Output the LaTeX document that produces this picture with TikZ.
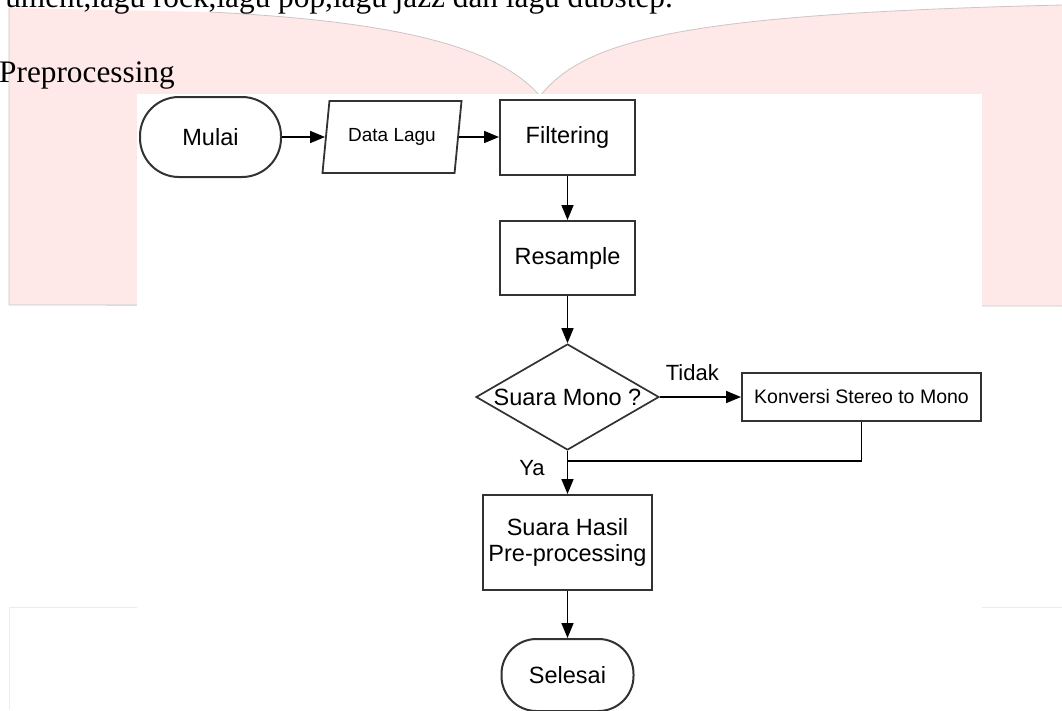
\documentclass[tikz,border=0pt]{standalone}
\usepackage{fontspec}
\setmainfont{Liberation Serif}
\newfontfamily\flowfont{Liberation Sans}
\usetikzlibrary{shapes.geometric,arrows.meta}

\definecolor{wmpink}{RGB}{255,232,232}
\definecolor{wmline}{RGB}{200,200,200}
\definecolor{faintline}{RGB}{236,236,236}
\definecolor{boxline}{RGB}{50,50,50}

\tikzset{
  procbox/.style={draw=boxline, line width=2pt, rectangle, inner sep=0pt, align=center,
    font=\flowfont\fontsize{23.5}{26}\selectfont},
  termbox/.style={procbox, rounded corners=39pt},
  iobox/.style={draw=boxline, line width=1.8pt, trapezium, trapezium left angle=74,
    trapezium right angle=106, trapezium stretches=true, inner sep=0pt,
    minimum width=140pt, minimum height=72pt, font=\flowfont\fontsize{19}{22}\selectfont},
  decbox/.style={draw=boxline, line width=1.7pt, diamond, inner sep=0pt,
    minimum width=183pt, minimum height=106pt, font=\flowfont\fontsize{23.5}{26}\selectfont},
  flowarrow/.style={line width=1.7pt, -{Triangle[length=15pt,width=12pt]}},
  flowlabel/.style={inner sep=0pt, font=\flowfont\fontsize{22}{26}\selectfont}
}

\begin{document}
\begin{tikzpicture}[x=1pt, y=-1pt]

\path[use as bounding box] (0,0) rectangle (1062,710);
\clip (0,0) rectangle (1062,710);

% page behind the chart
\fill[white] (0,0) rectangle (1062,710);
\fill[wmpink] (9,305) -- (9,8) -- (210,12) .. controls (410,22) and (500,50) .. (540,96)
  .. controls (585,40) and (680,14) .. (1062,5) -- (1062,306) -- cycle;
\draw[wmline, line width=0.8pt] (9,305) -- (9,8) (210,12) .. controls (410,22) and (500,50) .. (540,96)
  .. controls (585,40) and (680,14) .. (1062,5) (9,305) -- (1062,306);
\draw[faintline, line width=1pt] (9,710) -- (9,607) -- (1062,607);
\fill[white] (137,94) rectangle (982,710);

% text of the page
\node[anchor=base east, inner sep=0pt, font=\fontsize{31.3}{36}\selectfont] (topline) at (673,7.5)
  {ument,lagu rock,lagu pop,lagu jazz dan lagu dubstep.};
\node[anchor=base west, inner sep=0pt, font=\fontsize{31.3}{36}\selectfont] (heading) at (-1,82.6)
  {Preprocessing};

% the steps
\node[termbox, minimum width=141pt, minimum height=80pt] (mulai) at (210.5,137) {Mulai};
\node[iobox] (datalagu) at (392,137) {Data Lagu};
\node[procbox, minimum width=135pt, minimum height=75pt] (filtering) at (567.5,137) {Filtering};
\node[procbox, minimum width=135pt, minimum height=74pt] (resample) at (567.5,258) {Resample};
\node[decbox] (mono) at (567.5,397) {\makebox[0pt]{Suara Mono ?}};
\node[procbox, font=\flowfont\fontsize{19.5}{22}\selectfont, minimum width=239pt, minimum height=48pt]
  (konversi) at (861.5,397) {Konversi Stereo to Mono};
\node[procbox, minimum width=169pt, minimum height=95pt] (hasil) at (567.5,542.5) {Suara Hasil\\Pre-processing};
\node[termbox, rounded corners=35pt, minimum width=132pt, minimum height=72pt] (selesai) at (567.5,675) {Selesai};

% where the two branches meet
\coordinate (join) at (567.5,461);

% connectors
\draw[flowarrow] (mulai.east) -- (mulai.east -| datalagu.west);
\draw[flowarrow] (datalagu.east) -- (datalagu.east -| filtering.west);
\draw[flowarrow] (filtering) -- (resample);
\draw[flowarrow] (resample) -- (mono.north);
\draw[flowarrow] (mono.east) -- node[flowlabel, pos=0.4, above=15pt] (tidak) {Tidak} (konversi.west);
\draw[line width=1.7pt] (konversi.south) |- (join);
\draw[flowarrow] (mono.south) -- node[flowlabel, pos=0.4, left=22pt] (ya) {Ya} (hasil.north);
\draw[flowarrow] (hasil) -- (selesai);

\end{tikzpicture}
\end{document}
